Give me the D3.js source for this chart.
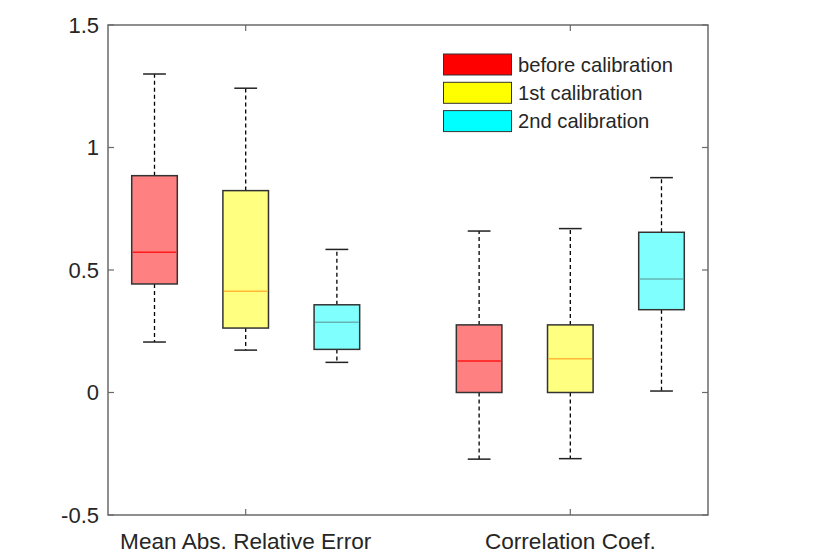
<!DOCTYPE html>
<html>
<head>
<meta charset="utf-8">
<script src="https://cdn.jsdelivr.net/npm/d3@7"></script>
<style>
  html, body { margin: 0; padding: 0; background: #fff; }
  svg { display: block; }
  text { font-family: "Liberation Sans", Arial, Helvetica, sans-serif; fill: #262626; }
</style>
</head>
<body>
<svg id="chart" width="820" height="554"></svg>
<script>
// ---- data ----
const categories = ["Mean Abs. Relative Error", "Correlation Coef."];
const series = ["before calibration", "1st calibration", "2nd calibration"];
// per category, per series: [lower whisker, q1, median, q3, upper whisker]
const mareStats = [
  [0.206, 0.443, 0.572, 0.885, 1.300],
  [0.173, 0.263, 0.413, 0.824, 1.242],
  [0.123, 0.176, 0.287, 0.358, 0.584]
];
const corrStats = [
  [-0.272, 0.000, 0.129, 0.276, 0.659],
  [-0.270, 0.000, 0.138, 0.276, 0.669],
  [0.006, 0.338, 0.463, 0.654, 0.877]
];
const yTicks = [-0.5, 0, 0.5, 1, 1.5];
const yTickLabels = ["-0.5", "0", "0.5", "1", "1.5"];

// ---- styles / layout ----
const boxFill = ["#ff8080", "#ffff80", "#80ffff"];
const legendFill = ["#ff0000", "#ffff00", "#00ffff"];
const medianColor = ["#ff1a1a", "#ffb833", "#66b3b3"];
const groupCenters = [2, 5.56];
const offsets = [-1, 0, 1];

const svg = d3.select("#chart");
const x = d3.scaleLinear().domain([0.49, 7.07]).range([108, 708]);
const y = d3.scaleLinear().domain([-0.5, 1.5]).range([515, 25]);

const boxes = [];
[mareStats, corrStats].forEach((stats, ci) => {
  stats.forEach((s, si) => {
    boxes.push({ cat: ci, ser: si, pos: groupCenters[ci] + offsets[si],
      lo: s[0], q1: s[1], med: s[2], q3: s[3], hi: s[4] });
  });
});

const boxW = 0.5, capW = 0.25;
const g = svg.append("g");

g.selectAll(".wh").data(boxes).join("g").each(function(d) {
  const gg = d3.select(this);
  gg.append("line").attr("x1", x(d.pos)).attr("x2", x(d.pos))
    .attr("y1", y(d.q3)).attr("y2", y(d.hi))
    .attr("stroke", "#000").attr("stroke-width", 1.3).attr("stroke-dasharray", "4,3");
  gg.append("line").attr("x1", x(d.pos)).attr("x2", x(d.pos))
    .attr("y1", y(d.q1)).attr("y2", y(d.lo))
    .attr("stroke", "#000").attr("stroke-width", 1.3).attr("stroke-dasharray", "4,3");
  gg.append("line").attr("x1", x(d.pos - capW / 2)).attr("x2", x(d.pos + capW / 2))
    .attr("y1", y(d.hi)).attr("y2", y(d.hi)).attr("stroke", "#222").attr("stroke-width", 1.5);
  gg.append("line").attr("x1", x(d.pos - capW / 2)).attr("x2", x(d.pos + capW / 2))
    .attr("y1", y(d.lo)).attr("y2", y(d.lo)).attr("stroke", "#222").attr("stroke-width", 1.5);
  gg.append("rect").attr("x", x(d.pos - boxW / 2)).attr("width", x(d.pos + boxW / 2) - x(d.pos - boxW / 2))
    .attr("y", y(d.q3)).attr("height", y(d.q1) - y(d.q3))
    .attr("fill", boxFill[d.ser]).attr("stroke", "#333").attr("stroke-width", 1.5);
  gg.append("line").attr("x1", x(d.pos - boxW / 2) + 1).attr("x2", x(d.pos + boxW / 2) - 1)
    .attr("y1", y(d.med)).attr("y2", y(d.med))
    .attr("stroke", medianColor[d.ser]).attr("stroke-width", 1.5);
});

// axes frame
const axisColor = "#6a6a6a";
svg.append("rect").attr("x", 108).attr("y", 25).attr("width", 600).attr("height", 490)
  .attr("fill", "none").attr("stroke", axisColor).attr("stroke-width", 1.5);

const tl = 6;
yTicks.forEach((v, i) => {
  svg.append("line").attr("x1", 108).attr("x2", 108 + tl).attr("y1", y(v)).attr("y2", y(v))
    .attr("stroke", axisColor).attr("stroke-width", 1.2);
  svg.append("line").attr("x1", 708).attr("x2", 708 - tl).attr("y1", y(v)).attr("y2", y(v))
    .attr("stroke", axisColor).attr("stroke-width", 1.2);
  svg.append("text").attr("x", 99).attr("y", y(v)).attr("dy", "0.36em")
    .attr("text-anchor", "end").attr("font-size", 22).text(yTickLabels[i]);
});
categories.forEach((c, i) => {
  const cx = x(groupCenters[i]);
  svg.append("line").attr("x1", cx).attr("x2", cx).attr("y1", 515).attr("y2", 515 - tl)
    .attr("stroke", axisColor).attr("stroke-width", 1.2);
  svg.append("line").attr("x1", cx).attr("x2", cx).attr("y1", 25).attr("y2", 25 + tl)
    .attr("stroke", axisColor).attr("stroke-width", 1.2);
  svg.append("text").attr("x", cx).attr("y", 549).attr("text-anchor", "middle")
    .attr("font-size", 22.6).text(c);
});

// legend
series.forEach((s, i) => {
  const yy = 54 + i * 28.3;
  svg.append("rect").attr("x", 443.5).attr("y", yy).attr("width", 68).attr("height", 21)
    .attr("fill", legendFill[i]).attr("stroke", "#333").attr("stroke-width", 1);
  svg.append("text").attr("x", 518).attr("y", yy + 10.5).attr("dy", "0.36em")
    .attr("font-size", 20.2).text(s);
});
</script>
</body>
</html>
